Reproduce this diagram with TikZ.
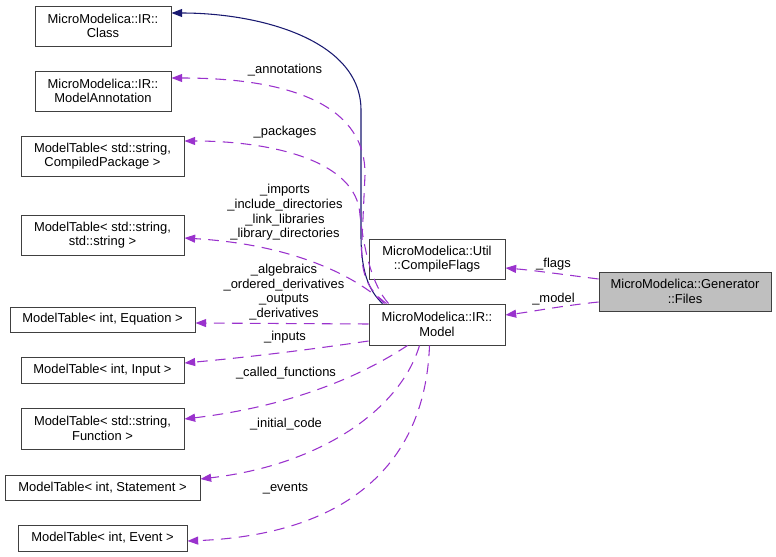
\documentclass[tikz,border=0pt]{standalone}
\usepackage{fontspec}
\setmainfont{Liberation Sans}
\usetikzlibrary{arrows.meta}
\usetikzlibrary{calc}
\definecolor{orchid}{HTML}{9A32CD}
\definecolor{navyblue}{HTML}{191970}
\definecolor{boxgray}{HTML}{404040}
\definecolor{filegray}{HTML}{BFBFBF}

\begin{document}
\begin{tikzpicture}[x=0.75pt, y=-0.75pt,
    every node/.style={font=\fontsize{9.7}{11}\selectfont, align=center, inner sep=0pt},
    cbox/.style={draw=boxgray, line width=0.75pt},
    member/.style={draw=orchid, line width=0.8pt, dash pattern=on 8pt off 5.5pt, -{Triangle[length=8pt, width=6pt]}},
    inherit/.style={draw=navyblue, line width=0.8pt, -{Triangle[length=8pt, width=6pt]}}]
        \useasboundingbox (0,0) rectangle (776,557);
        % classes on the left
        \node[cbox, minimum width=136*0.75pt, minimum height=40*0.75pt] (cls) at (103,26) {MicroModelica::IR::\\Class};
        \node[cbox, minimum width=136*0.75pt, minimum height=40*0.75pt] (ann) at (103,91) {MicroModelica::IR::\\ModelAnnotation};
        \node[cbox, minimum width=163*0.75pt, minimum height=40*0.75pt] (pkg) at (102.5,156) {ModelTable< std::string,\\CompiledPackage >};
        \node[cbox, minimum width=163*0.75pt, minimum height=40*0.75pt] (str) at (102.5,235) {ModelTable< std::string,\\std::string >};
        \node[cbox, minimum width=185*0.75pt, minimum height=25*0.75pt] (eqn) at (102.5,319.5) {ModelTable< int, Equation >};
        \node[cbox, minimum width=163*0.75pt, minimum height=26*0.75pt] (inp) at (102.5,370) {ModelTable< int, Input >};
        \node[cbox, minimum width=163*0.75pt, minimum height=41*0.75pt] (fun) at (102.5,428.5) {ModelTable< std::string,\\Function >};
        \node[cbox, minimum width=195*0.75pt, minimum height=25*0.75pt] (stm) at (102.5,487.5) {ModelTable< int, Statement >};
        \node[cbox, minimum width=169*0.75pt, minimum height=26*0.75pt] (evt) at (102.5,538) {ModelTable< int, Event >};
        % middle and right
        \node[cbox, minimum width=136*0.75pt, minimum height=40*0.75pt] (flags) at (437,259) {MicroModelica::Util\\::CompileFlags};
        \node[cbox, minimum width=136*0.75pt, minimum height=41*0.75pt] (model) at (437,324.5) {MicroModelica::IR::\\Model};
        \node[cbox, fill=filegray, minimum width=172*0.75pt, minimum height=39*0.75pt] (files) at (685,291.5) {MicroModelica::Generator\\::Files};

        % inheritance
        \draw[inherit] ($(model.north west)+(14,0)$) .. controls (368,290) and (361,270) .. (361,235) -- (361,110) .. controls (361,40) and (260,13) .. ($(cls.east)+(0,-13)$);

        % members of Model
        \draw[member] ($(model.north west)+(18,0)$) .. controls (368,290) and (360,275) .. (362,240) -- (365,175) .. controls (366,110) and (300,78) .. ($(ann.east)+(0,-13)$);
        \draw[member] ($(model.north west)+(20,0)$) .. controls (372,285) and (364,250) .. (360,215) .. controls (357,160) and (270,141) .. ($(pkg.east)+(0,-15)$);
        \draw[member] ($(model.north west)+(16,0)$) .. controls (360,280) and (300,245) .. ($(str.east)+(0,3)$);
        \draw[member] ($(model.west)+(0,-0.5)$) -- ($(eqn.east)+(0,3.5)$);
        \draw[member] ($(model.west)+(0,16.5)$) .. controls (300,351) and (240,358) .. ($(inp.east)+(0,-7)$);
        \draw[member] ($(model.south west)+(39,0)$) .. controls (340,390) and (260,410) .. ($(fun.east)+(0,-9.5)$);
        \draw[member] ($(model.south west)+(51,0)$) .. controls (400,410) and (320,465) .. ($(stm.east)+(0,-8.5)$);
        \draw[member] ($(model.south west)+(61,0)$) .. controls (425,470) and (340,535) .. ($(evt.east)+(0,3)$);

        % members of Files
        \draw[member] ($(files.west)+(0,-12.5)$) .. controls (560,274) and (530,270) .. ($(flags.east)+(0,9)$);
        \draw[member] ($(files.west)+(0,10.5)$) .. controls (560,306) and (530,312) .. ($(model.east)+(0,-9.5)$);

        % labels
        \node (lannot) at (285,70) {\_annotations};
        \node (lpkg) at (285,132) {\_packages};
        \node (lstr) at (285,212.5) {\_imports\\\_include\_directories\\\_link\_libraries\\\_library\_directories};
        \node (leqn) at (284,292) {\_algebraics\\\_ordered\_derivatives\\\_outputs\\\_derivatives};
        \node (linp) at (285,337) {\_inputs};
        \node (lfun) at (286,373) {\_called\_functions};
        \node (lstm) at (286,424) {\_initial\_code};
        \node (levt) at (285.5,488.5) {\_events};
        \node (lflags) at (553.5,264.5) {\_flags};
        \node (lmodel) at (553.5,299) {\_model};
    \end{tikzpicture}
\end{document}
